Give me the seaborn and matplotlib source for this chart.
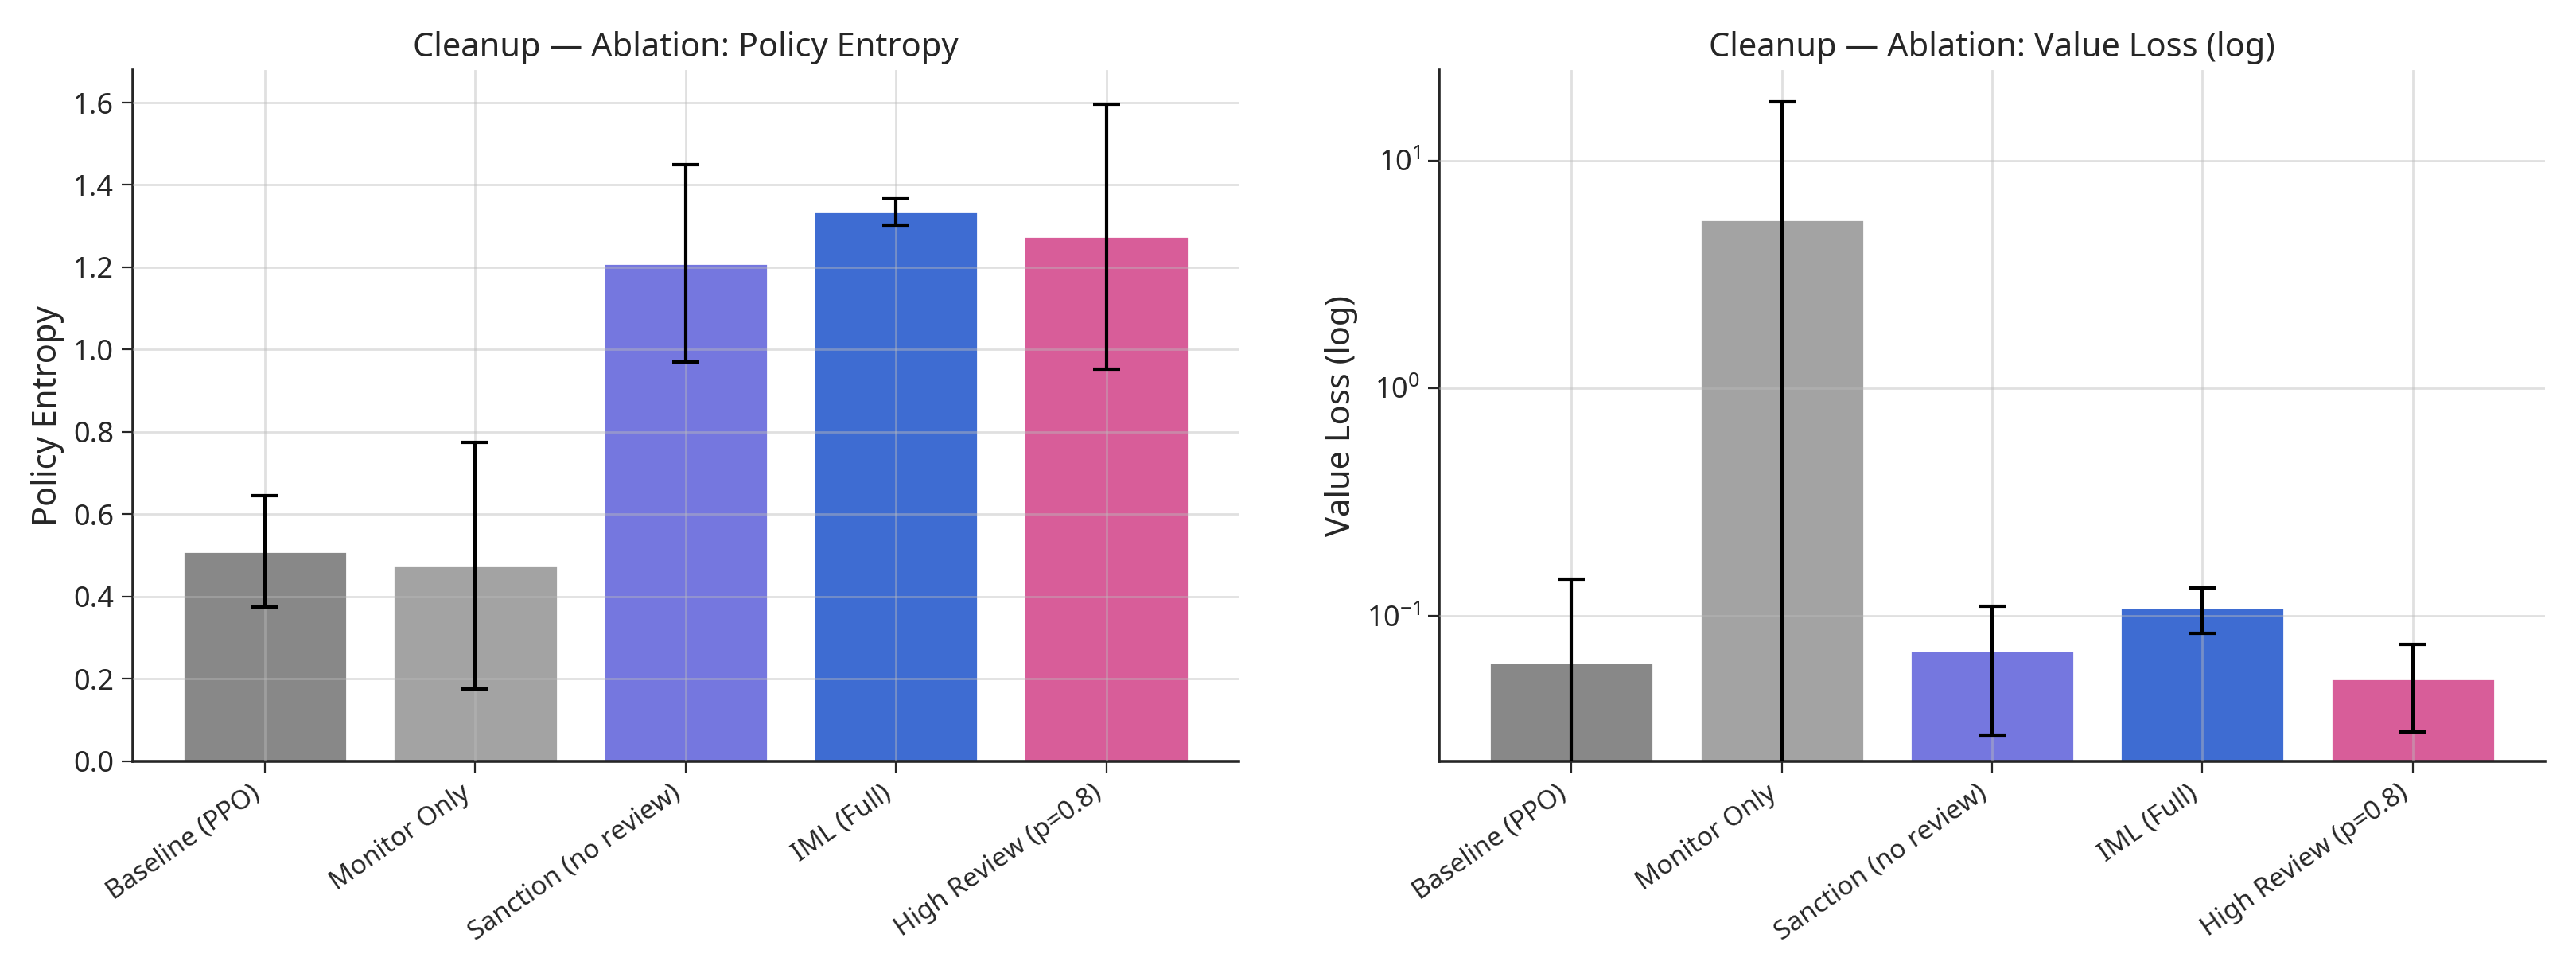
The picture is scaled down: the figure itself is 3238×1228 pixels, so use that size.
import matplotlib
matplotlib.use("Agg")
import matplotlib.pyplot as plt
import seaborn as sns
import numpy as np

labels = ["Baseline (PPO)", "Monitor Only", "Sanction (no review)", "IML (Full)", "High Review (p=0.8)"]
colors = ["#888888", "#a3a3a3", "#6366f1", "#2563eb", "#ec4899"]
entropy = [0.51, 0.475, 1.21, 1.335, 1.275]
entropy_err = [0.135, 0.30, 0.24, 0.033, 0.322]
vloss = [0.062, 5.5, 0.07, 0.108, 0.053]
vloss_err = [0.083, 12.5, 0.04, 0.024, 0.022]

sns.set_style("white")
plt.rcParams['font.family'] = ['Noto Sans', 'DejaVu Sans']
plt.rcParams['font.size'] = 13

fig, axes = plt.subplots(1, 2, figsize=(16.19, 6.14), dpi=200)

def panel(ax, vals, errs, title, ylabel, log=False):
    sns.barplot(x=labels, y=vals, hue=labels, palette=colors, legend=False, ax=ax, width=0.78)
    ax.errorbar(np.arange(len(vals)), vals, yerr=errs, fmt="none", ecolor="black",
                capsize=6, elinewidth=1.5, capthick=1.5, zorder=5)
    if log:
        ax.set_yscale("log")
    ax.grid(True, color="#bbbbbb", alpha=0.45, linewidth=1)
    ax.set_axisbelow(False)
    ax.set_title(title, fontsize=15)
    ax.set_ylabel(ylabel, fontsize=15)
    ax.tick_params(axis="y", labelsize=13, left=True, length=5)
    ax.tick_params(axis="x", bottom=True, length=5)
    ax.set_xticks(range(len(labels)))
    ax.set_xticklabels(labels, rotation=35, ha="right", fontsize=12)
    sns.despine(ax=ax)
    for s in ["left", "bottom"]:
        ax.spines[s].set_linewidth(1.3)

panel(axes[0], entropy, entropy_err, "Cleanup — Ablation: Policy Entropy", "Policy Entropy")
axes[0].set_ylim(0, 1.68)
axes[0].set_yticks(np.arange(0, 1.61, 0.2))
panel(axes[1], vloss, vloss_err, "Cleanup — Ablation: Value Loss (log)", "Value Loss (log)", log=True)
axes[1].set_ylim(0.023, 25)

fig.tight_layout(w_pad=3)
fig.savefig("out.png", dpi=200)
